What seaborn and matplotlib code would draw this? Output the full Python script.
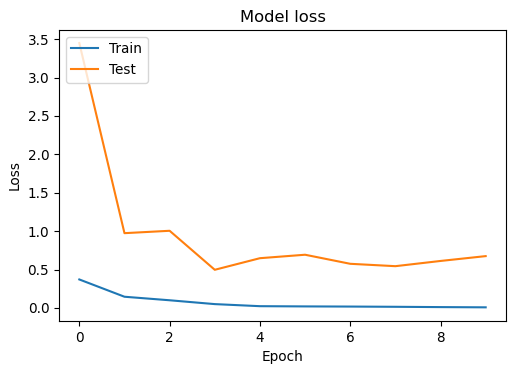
import matplotlib
matplotlib.use("Agg")
import matplotlib.pyplot as plt
import seaborn as sns
import pandas as pd

epochs = [0, 1, 2, 3, 4, 5, 6, 7, 8, 9]
train_loss = [0.371, 0.146, 0.100, 0.050, 0.023, 0.020, 0.018, 0.015, 0.011, 0.008]
test_loss = [3.45, 0.974, 1.005, 0.497, 0.648, 0.693, 0.575, 0.544, 0.612, 0.675]

df = pd.DataFrame({
    "Epoch": epochs * 2,
    "Loss": train_loss + test_loss,
    "Series": ["Train"] * len(epochs) + ["Test"] * len(epochs),
})

plt.rcParams["font.family"] = ["DejaVu Sans"]
plt.rcParams["font.size"] = 9.8

fig = plt.figure(figsize=(5.19, 3.71), dpi=100)
ax = fig.add_axes([59 / 519, 1 - 321 / 371, (506 - 59) / 519, (321 - 30) / 371])

sns.lineplot(data=df, x="Epoch", y="Loss", hue="Series",
             palette=["#1f77b4", "#ff7f0e"], linewidth=1.5, ax=ax)

ax.set_title("Model loss")
ax.set_xlabel("Epoch")
ax.set_ylabel("Loss")
ax.set_xticks([0, 2, 4, 6, 8])
ax.set_yticks([0.0, 0.5, 1.0, 1.5, 2.0, 2.5, 3.0, 3.5])
ax.set_ylim(-0.17, 3.62)
ax.set_xlim(-0.45, 9.45)
ax.legend(loc="upper left", title=None)

fig.savefig("out.png", dpi=100)
